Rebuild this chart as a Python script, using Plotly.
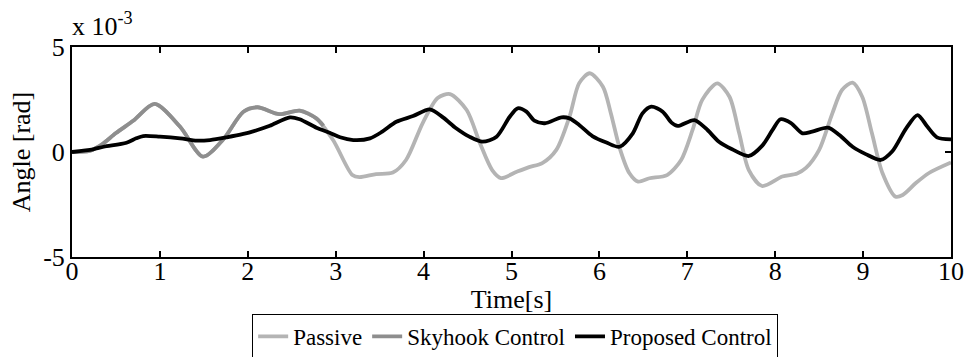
import plotly.graph_objects as go

# Time [s]
t_passive = [0, 0.2, 0.32, 0.5, 0.7, 0.94, 1.23, 1.49, 1.72, 1.95, 2.11, 2.36, 2.59, 2.78, 2.97,
             3.19, 3.27, 3.46, 3.65, 3.8, 3.99, 4.16, 4.3, 4.49, 4.64, 4.78, 4.88, 5.06, 5.2, 5.35,
             5.51, 5.66, 5.77, 5.89, 6.04, 6.13, 6.23, 6.34, 6.44, 6.57, 6.77, 6.93, 7.06, 7.17,
             7.34, 7.48, 7.59, 7.7, 7.85, 8.08, 8.25, 8.35, 8.5, 8.65, 8.76, 8.88, 8.99, 9.1, 9.22,
             9.37, 9.45, 9.6, 9.75, 10.0]
# Angle [x 1e-3 rad]
v_passive = [0, 0.05, 0.3, 0.9, 1.5, 2.29, 1.2, -0.22, 0.6, 1.92, 2.13, 1.8, 1.97, 1.6, 0.57,
             -1.1, -1.2, -1.05, -0.98, -0.38, 1.38, 2.57, 2.76, 2.0, 0.43, -0.86, -1.24, -0.94, -0.72, -0.53,
             0.1, 1.68, 3.28, 3.75, 3.11, 1.85, 0.2, -1.0, -1.41, -1.25, -1.1, -0.38, 1.05, 2.48,
             3.27, 2.63, 0.9, -0.86, -1.62, -1.17, -1.02, -0.76, 0.1, 1.84, 2.95, 3.3, 2.63, 0.9, -1.0,
             -2.13, -2.05, -1.48, -1.0, -0.5]

t_skyhook = [0, 0.2, 0.32, 0.5, 0.7, 0.94, 1.23, 1.49, 1.72, 1.95, 2.11, 2.36, 2.59, 2.78, 2.86]
v_skyhook = [0, 0.05, 0.3, 0.9, 1.5, 2.29, 1.2, -0.22, 0.6, 1.92, 2.13, 1.8, 1.97, 1.6, 1.25]

t_proposed = [0, 0.24, 0.36, 0.62, 0.73, 0.81, 1.0, 1.23, 1.42, 1.57, 1.76, 1.95, 2.11, 2.25, 2.48,
              2.59, 2.78, 2.93, 3.05, 3.2, 3.39, 3.53, 3.69, 3.88, 4.07, 4.22, 4.37, 4.52, 4.67, 4.83,
              4.98, 5.07, 5.17, 5.26, 5.38, 5.57, 5.66, 5.77, 5.92, 6.08, 6.23, 6.38, 6.49, 6.59, 6.72,
              6.82, 6.89, 7.08, 7.21, 7.36, 7.51, 7.7, 7.85, 7.97, 8.06, 8.18, 8.31, 8.42, 8.6, 8.73,
              8.88, 9.03, 9.2, 9.33, 9.49, 9.62, 9.73, 9.84, 10.0]
v_proposed = [0, 0.13, 0.25, 0.44, 0.65, 0.76, 0.73, 0.65, 0.54, 0.57, 0.7, 0.86, 1.05, 1.25, 1.65,
              1.56, 1.16, 0.92, 0.7, 0.57, 0.65, 0.97, 1.44, 1.71, 2.03, 1.65, 1.13, 0.73, 0.49, 0.73,
              1.68, 2.08, 1.92, 1.49, 1.37, 1.65, 1.6, 1.29, 0.76, 0.45, 0.25, 0.89, 1.84, 2.16, 1.92,
              1.4, 1.24, 1.52, 1.13, 0.49, 0.13, -0.19, 0.29, 1.05, 1.56, 1.38, 0.89, 0.97, 1.16, 0.81,
              0.25, -0.1, -0.38, 0.02, 1.13, 1.76, 1.21, 0.7, 0.6]

x_ticks = [0, 1, 2, 3, 4, 5, 6, 7, 8, 9, 10]
y_ticks = [-5, 0, 5]

FONT = "Liberation Serif, Times New Roman, serif"
FS = 26

fig = go.Figure()
fig.add_trace(go.Scatter(x=t_passive, y=v_passive, mode="lines", name="Passive",
                         line=dict(color="#b4b4b4", width=3.8, shape="spline", smoothing=0.8)))
fig.add_trace(go.Scatter(x=t_skyhook, y=v_skyhook, mode="lines", name="Skyhook Control",
                         line=dict(color="#8e8e8e", width=3.8, shape="spline", smoothing=0.8)))
fig.add_trace(go.Scatter(x=t_proposed, y=v_proposed, mode="lines", name="Proposed Control",
                         line=dict(color="#000000", width=3.8, shape="spline", smoothing=0.8)))

axis_common = dict(showgrid=False, zeroline=False, showline=True, linecolor="black", linewidth=2,
                   mirror="ticks", ticks="inside", ticklen=6, tickwidth=1.5, tickcolor="black",
                   automargin=False,
                   tickfont=dict(family=FONT, size=FS, color="black"))

fig.update_xaxes(range=[0, 10], tickvals=x_ticks, ticktext=[str(v) for v in x_ticks],
                 ticklabelstandoff=-10,
                 title=dict(text="Time[s]", font=dict(family=FONT, size=FS, color="black"), standoff=4),
                 **axis_common)
fig.update_yaxes(range=[-5, 5], tickvals=y_ticks, ticktext=[str(v) for v in y_ticks],
                 title=dict(text="Angle [rad]", font=dict(family=FONT, size=FS, color="black"), standoff=5),
                 **axis_common)

fig.add_annotation(text="x 10<sup>-3</sup>", xref="paper", yref="paper", x=0.0, y=1.0,
                   xanchor="left", yanchor="bottom", showarrow=False, xshift=-2, yshift=4,
                   font=dict(family=FONT, size=FS, color="black"))

fig.update_layout(
    width=972, height=357,
    margin=dict(l=72, r=21, t=47, b=100),
    plot_bgcolor="white", paper_bgcolor="white",
    font=dict(family=FONT, size=FS, color="black"),
    showlegend=True,
    legend=dict(orientation="h", x=0.53, xanchor="center", xref="container",
                y=1 - 314 / 357, yanchor="top", yref="container",
                bordercolor="black", borderwidth=1, bgcolor="white",
                font=dict(family=FONT, size=23, color="black"),
                tracegroupgap=0),
)

fig.write_html("out.html")
